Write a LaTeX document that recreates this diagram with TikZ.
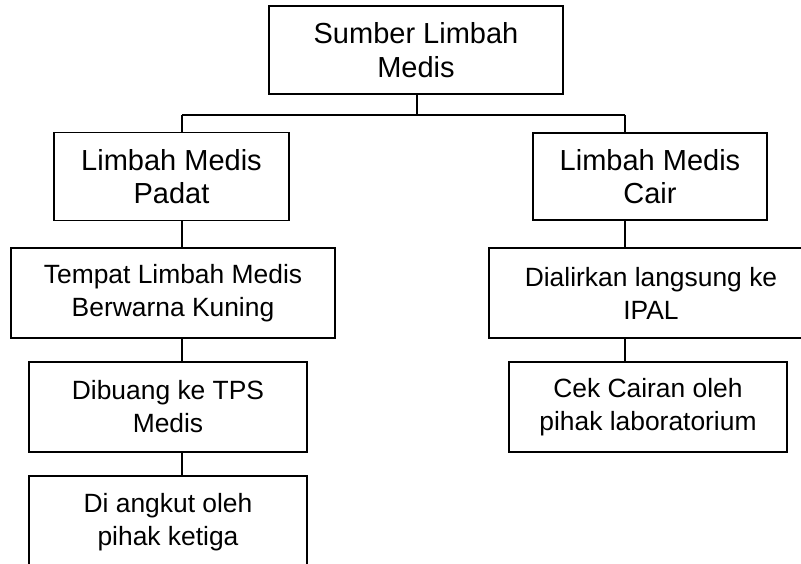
\documentclass[tikz,border=0pt]{standalone}
\usepackage{fontspec}
\setmainfont{Liberation Sans}
\begin{document}
\begin{tikzpicture}[x=1pt,y=-1pt,
  box/.style={draw=black, line width=1.4pt, fill=white, align=center, inner sep=0pt,
    font=\fontsize{26.4}{33}\selectfont},
  bigbox/.style={box, font=\fontsize{29}{33.5}\selectfont},
  link/.style={draw=black, line width=1.4pt}]
\useasboundingbox (0,0) rectangle (801,564);
\clip (0,0) rectangle (801,564);
\node[bigbox, minimum width=294pt, minimum height=88pt] (top) at (416,50) {Sumber Limbah\\Medis};
\node[bigbox, minimum width=235pt, minimum height=88pt] (padat) at (171.5,176.5) {Limbah Medis\\Padat};
\node[bigbox, minimum width=234pt, minimum height=87pt] (cair) at (650,176.5) {Limbah Medis\\Cair};
\node[box, minimum width=324pt, minimum height=90pt] (tempat) at (173,293) {Tempat Limbah Medis\\Berwarna Kuning};
\node[box, minimum width=324pt, minimum height=90pt] (ipal) at (651,293) {Dialirkan langsung ke\\IPAL};
\node[box, minimum width=278pt, minimum height=90pt] (tps) at (168,407) {Dibuang ke TPS\\Medis};
\node[box, minimum width=278pt, minimum height=90pt] (cek) at (648,407) {Cek Cairan oleh\\pihak laboratorium};
\node[box, minimum width=278pt, minimum height=92pt] (angkut) at (168,522) {Di angkut oleh\\pihak ketiga};
\coordinate (jt) at (417,115);
\coordinate (spL) at (182,115);
\coordinate (spR) at (625,115);
\draw[link] (top.south -| jt) -- (jt);
\draw[link] (spL) -- (spR);
\draw[link] (spL) -- (padat.north -| spL);
\draw[link] (spR) -- (cair.north -| spR);
\draw[link] (padat.south -| spL) -- (tempat.north -| spL);
\draw[link] (tempat.south -| spL) -- (tps.north -| spL);
\draw[link] (tps.south -| spL) -- (angkut.north -| spL);
\draw[link] (cair.south -| spR) -- (ipal.north -| spR);
\draw[link] (ipal.south -| spR) -- (cek.north -| spR);
\end{tikzpicture}
\end{document}
